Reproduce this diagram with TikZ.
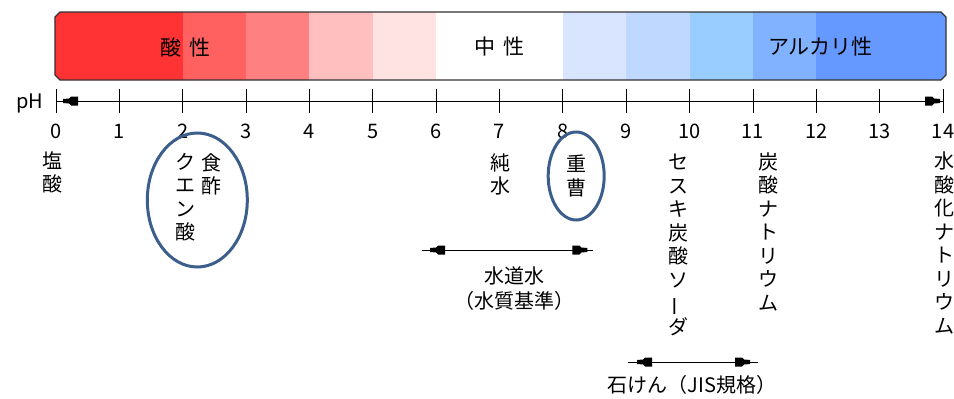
\documentclass[tikz,border=0pt]{standalone}
\usepackage{fontspec}
\setmainfont{Noto Sans CJK JP}
\usepackage{tikz}
\usetikzlibrary{arrows.meta,positioning}

\definecolor{AcidA}{HTML}{FF3333}
\definecolor{AcidB}{HTML}{FF6060}
\definecolor{AcidC}{HTML}{FF8080}
\definecolor{AcidD}{HTML}{FFBFBF}
\definecolor{AcidE}{HTML}{FFE2E2}
\definecolor{BaseA}{HTML}{D9E5FF}
\definecolor{BaseB}{HTML}{BFD8FF}
\definecolor{BaseC}{HTML}{99CCFF}
\definecolor{BaseD}{HTML}{80B2FF}
\definecolor{BaseE}{HTML}{6699FF}
\definecolor{Maru}{HTML}{3B5E8C}

% blunt arrow heads, tip #2 inside the line end #1
\newcommand{\headL}[2]{\fill ([xshift=#2,yshift=2pt]#1) -- ++(6pt,0.5pt) -- ++(2pt,2pt) -- ++(7pt,0pt)
	-- ++(0pt,-9pt) -- ++(-7pt,0pt) -- ++(-2pt,2pt) -- ++(-6pt,0.5pt) -- cycle;}
\newcommand{\headR}[2]{\fill ([xshift=-#2,yshift=2pt]#1) -- ++(-6pt,0.5pt) -- ++(-2pt,2pt) -- ++(-7pt,0pt)
	-- ++(0pt,-9pt) -- ++(7pt,0pt) -- ++(2pt,2pt) -- ++(6pt,0.5pt) -- cycle;}

\begin{document}
\begin{tikzpicture}[x=63.36pt, y=-1pt]
			\tikzstyle{Bar}		= [draw=black!80, line width=1.2pt]
			\tikzstyle{Axis}	= [line width=0.9pt]
			\tikzstyle{Num}		= [inner sep=0pt, font=\fontsize{20}{22}\selectfont]
			\tikzstyle{Band}	= [inner sep=0pt, font=\fontsize{21}{24}\selectfont]
			\tikzstyle{Tate}	= [inner sep=0pt, anchor=north, align=center, font=\fontsize{20}{23.5}\selectfont]
			\tikzstyle{Yoko}	= [inner sep=0pt, align=center, font=\fontsize{20}{25}\selectfont]
			\tikzstyle{Ring}	= [draw=Maru, line width=3pt]

			\useasboundingbox (-0.884,0) rectangle (14.173,399);

			% colour band
			\begin{scope}
				\clip (0.063,12) -- (13.968,12) -- (14.047,17) -- (14.047,75) -- (13.968,80)
					-- (0.063,80) -- (-0.016,75) -- (-0.016,17) -- cycle;
				\foreach \a/\b/\c in {-1/2/AcidA, 2/3/AcidB, 3/4/AcidC, 4/5/AcidD, 5/6/AcidE,
					6/8/white, 8/9/BaseA, 9/10/BaseB, 10/11/BaseC, 11/12/BaseD, 12/15/BaseE}
					\fill[\c] (\a,0) rectangle (\b,100);
			\end{scope}
			\draw[Bar] (0.063,12) -- (13.968,12) -- (14.047,17) -- (14.047,75) -- (13.968,80)
				-- (0.063,80) -- (-0.016,75) -- (-0.016,17) -- cycle;

			\node (sansei) at (2.04,47) [Band] {酸\hspace{8pt}性};
			\node (chusei) at (7.0,47) [Band] {中\hspace{8pt}性};
			\node (alkali) at (12.06,47) [Band] {アルカリ性};

			% pH axis
			\coordinate (p0) at (0,101);
			\coordinate (p14) at (14,101);
			\node (ph) at (-0.41,103) [Num] {pH};
			\draw[Axis] (p0) -- (p14);
			\headL{p0}{7pt}
			\headR{p14}{3pt}
			\foreach \i in {0,...,14} {
				\draw[Axis] (\i,89) -- (\i,113);
				\node (n\i) at (\i,131) [Num] {\i};
			}

			% substances
			\node (ensan) at (-0.05,151) [Tate] {塩\\酸};
			\node (shokuzu) at (2.46,153) [Tate] {食\\酢};
			\node (kuensan) at (2.04,153) [Tate] {ク\\エ\\ン\\酸};
			\node (junsui) at (7.01,153) [Tate] {純\\水};
			\node (jusou) at (8.22,155) [Tate] {重\\曹};
			\node (sesuki) at (9.82,154) [Tate] {セ\\ス\\キ\\炭\\酸\\ソ\\\rotatebox[origin=c]{90}{ー}\\ダ};
			\node (tansan) at (11.24,152) [Tate] {炭\\酸\\ナ\\ト\\リ\\ウ\\ム};
			\node (suisanka) at (14.02,152) [Tate] {水\\酸\\化\\ナ\\ト\\リ\\ウ\\ム};

			\draw[Ring] (2.23,200) ellipse [x radius=50pt, y radius=67pt];
			\draw[Ring] (8.21,176) ellipse [x radius=28pt, y radius=44pt];

			% ranges
			\coordinate (suidoL) at (5.78,250);
			\coordinate (suidoR) at (8.48,250);
			\draw[Axis] (suidoL) -- (suidoR);
			\headL{suidoL}{8pt}
			\headR{suidoR}{6pt}
			\node (suido) at (7.24,289) [Yoko] {水道水\\（水質基準）};

			\coordinate (sekkenL) at (9.03,362);
			\coordinate (sekkenR) at (11.08,362);
			\draw[Axis] (sekkenL) -- (sekkenR);
			\headL{sekkenL}{9pt}
			\headR{sekkenR}{8pt}
			\node (sekken) at (10.04,385) [Yoko] {石けん（JIS規格）};
		\end{tikzpicture}
\end{document}
